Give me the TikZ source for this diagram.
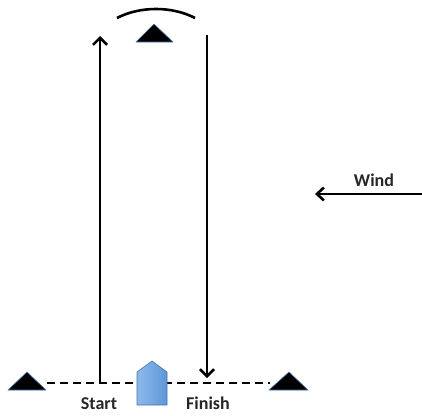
\documentclass[tikz,border=0pt]{standalone}
\usepackage{fontspec}
\setmainfont{Carlito}
\usetikzlibrary{arrows.meta}
\definecolor{markedge}{RGB}{70,120,180}
\definecolor{boatlight}{RGB}{140,185,235}
\definecolor{boatdark}{RGB}{95,150,215}
\definecolor{boatedge}{RGB}{70,115,175}
\tikzset{
	leg/.style={line width=2.6pt, -{Straight Barb[length=7pt,width=14pt,line width=2.6pt]}},
	buoy/.style={fill=black, draw=markedge, line width=0.6pt, line join=round},
	lbl/.style={font=\fontsize{18}{20}\selectfont\bfseries, inner sep=0pt, text=black!85}
}

\begin{document}
\begin{tikzpicture}[x=1pt, y=-1pt]
		%%%%% START %%%%%
		\useasboundingbox (0,0) rectangle (422,415);
		
		\coordinate (pinL) at (47,383);
		\coordinate (pinR) at (270,383);
		\coordinate (upA) at (100,383);
		\coordinate (upB) at (100,36);
		\coordinate (downA) at (207,35);
		\coordinate (downB) at (207,378);
		\coordinate (windA) at (422,194);
		\coordinate (windB) at (315,194);
		
		% start line
		\draw[line width=2.8pt, dash pattern=on 8pt off 5pt] (pinL) -- (pinR);
		
		% marks
		\draw[buoy] (8,390) -- (27,372) -- (46,390) -- cycle;
		\draw[buoy] (269,390) -- (289,372) -- (308,390) -- cycle;
		\draw[buoy] (136,42) -- (154,24) -- (173,42) -- cycle;
		\draw[line width=2.6pt] (117,18) .. controls (140,6) and (172,6) .. (195,18);
		
		% legs
		\draw[leg] (upA) -- (upB);
		\draw[leg] (downA) -- (downB);
		
		% boat
		\draw[left color=boatlight, right color=boatdark, draw=boatedge, line width=0.6pt]
			(137,405) -- (137,372) -- (152,361) -- (167,372) -- (167,405) -- cycle;
		
		% wind
		\draw[line width=2.6pt, -{Straight Barb[length=7pt,width=13pt,line width=2.6pt]}] (windA) -- (windB);
		\node[lbl] (wind) at (374,180) {Wind};
		
		\node[lbl] (start) at (99,404) {Start};
		\node[lbl] (finish) at (208,403) {Finish};
		%%%%% END %%%%%
\end{tikzpicture}
\end{document}
